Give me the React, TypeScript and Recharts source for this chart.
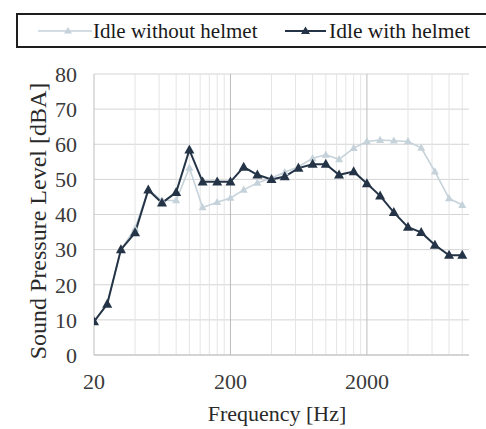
import React from 'react';
import { ComposedChart, Line, XAxis, YAxis, CartesianGrid, ReferenceLine, Label } from 'recharts';

const frequencies = [20, 25, 31.5, 40, 50, 63, 80, 100, 125, 160, 200, 250, 315, 400, 500, 630, 800, 1000, 1250, 1600, 2000, 2500, 3150, 4000, 5000, 6300, 8000, 10000];
const withoutHelmet = [9.5, 14.5, 30, 36, 47, 44, 44, 53.3, 42, 43.5, 44.7, 47, 49, 50.4, 52, 53.6, 56, 57, 55.7, 58.9, 60.8, 61.2, 61, 60.8, 59, 52.2, 44.6, 42.7];
const withHelmet = [9.5, 14.5, 30, 34.8, 47, 43.3, 46.3, 58.4, 49.3, 49.3, 49.3, 53.5, 51.3, 50, 50.8, 53.2, 54.3, 54.3, 51.3, 52.2, 48.8, 45.3, 40.6, 36.4, 34.9, 31.3, 28.4, 28.4];
const seriesNames = ['Idle without helmet', 'Idle with helmet'];
const xTicks = [20, 200, 2000];
const yTicks = [0, 10, 20, 30, 40, 50, 60, 70, 80];
const minorGrid = [40, 60, 80, 100, 120, 140, 160, 180, 400, 600, 800, 1000, 1200, 1400, 1600, 1800, 4000, 6000, 8000, 10000];

const data = frequencies.map((f, i) => ({ f, without: withoutHelmet[i], with: withHelmet[i] }));

const LIGHT = '#c6d2da';
const DARK = '#243446';
const FONT = 'Liberation Serif';

const triangle = (color: string, size: number) => (props: any) => {
  const { cx, cy, index } = props;
  if (cx == null || cy == null) return <g key={index} />;
  const h = size * 0.9;
  return (
    <polygon
      key={index}
      points={`${cx},${cy - h * 0.6} ${cx - size / 2},${cy + h * 0.4} ${cx + size / 2},${cy + h * 0.4}`}
      fill={color}
    />
  );
};

const LegendBox = () => (
  <svg width={486} height={60} style={{ position: 'absolute', left: 0, top: 0 }}>
    <rect x={17} y={14} width={470} height={33} fill="#fff" stroke="#1e1e1e" strokeWidth={2} />
    <line x1={38} y1={31} x2={92} y2={31} stroke={LIGHT} strokeWidth={1.5} />
    <polygon points="68,27 64,33.5 72,33.5" fill={LIGHT} />
    <text x={93} y={38} fontFamily={FONT} fontSize={21} fill="#1a1a1a">{seriesNames[0]}</text>
    <line x1={285} y1={31} x2={326} y2={31} stroke={DARK} strokeWidth={2} />
    <polygon points="305.5,26.5 301,34 310,34" fill={DARK} />
    <text x={329} y={38} fontFamily={FONT} fontSize={21.5} fill="#1a1a1a">{seriesNames[1]}</text>
  </svg>
);

export default function App() {
  return (
    <div style={{ position: 'absolute', left: 0, top: 0, width: 486, height: 429, background: '#fff' }}>
      <ComposedChart width={486} height={429} data={data} margin={{ top: 74, right: 17, bottom: 0, left: 0 }}>
        <CartesianGrid vertical={false} stroke="#d4d4d4" strokeWidth={1} />
        {minorGrid.map((v) => (
          <ReferenceLine key={v} x={v} stroke="#e4e4e4" strokeWidth={1} ifOverflow="hidden" />
        ))}
        {xTicks.slice(1).map((v) => (
          <ReferenceLine key={'M' + v} x={v} stroke="#bdbdbd" strokeWidth={1} />
        ))}
        <XAxis
          dataKey="f"
          type="number"
          scale="log"
          domain={[20, 11200]}
          ticks={xTicks}
          allowDataOverflow
          height={74}
          tickLine={false}
          tickSize={6}
          tickMargin={12}
          axisLine={{ stroke: '#bfbfbf' }}
          tick={{ fontFamily: FONT, fontSize: 22, fill: '#3a3a3a' }}
        >
          <Label
            content={() => (
              <text x={277} y={421} textAnchor="middle" fontFamily={FONT} fontSize={22} fill="#2a2a2a">
                Frequency [Hz]
              </text>
            )}
          />
        </XAxis>
        <YAxis
          type="number"
          domain={[0, 80]}
          ticks={yTicks}
          width={94}
          tickLine={false}
          tickSize={6}
          tickMargin={11}
          axisLine={{ stroke: '#bfbfbf' }}
          tick={{ fontFamily: FONT, fontSize: 22, fill: '#3a3a3a' }}
        >
          <Label
            content={() => (
              <text
                x={46}
                y={221}
                transform="rotate(-90 46 221)"
                textAnchor="middle"
                fontFamily={FONT}
                fontSize={24}
                fill="#2a2a2a"
              >
                Sound Pressure Level [dBA]
              </text>
            )}
          />
        </YAxis>
        <Line
          dataKey="without"
          name={seriesNames[0]}
          stroke={LIGHT}
          strokeWidth={1.6}
          dot={triangle(LIGHT, 8)}
          activeDot={false}
          isAnimationActive={false}
        />
        <Line
          dataKey="with"
          name={seriesNames[1]}
          stroke={DARK}
          strokeWidth={2}
          dot={triangle(DARK, 10)}
          activeDot={false}
          isAnimationActive={false}
        />
      </ComposedChart>
      <LegendBox />
    </div>
  );
}
